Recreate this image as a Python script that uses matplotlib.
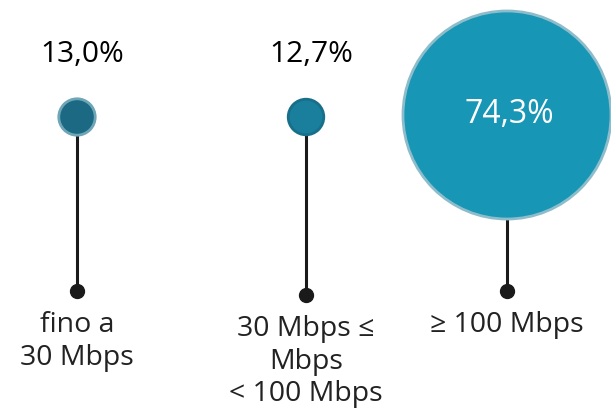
import matplotlib
matplotlib.use("Agg")
import matplotlib.pyplot as plt
from matplotlib.patches import Circle

# Data
categories = ["fino a\n30 Mbps", "30 Mbps ≤\nMbps\n< 100 Mbps", "≥ 100 Mbps"]
values = [13.0, 12.7, 74.3]
value_labels = ["13,0%", "12,7%", "74,3%"]

# Layout / style (pixel coordinates)
W, H = 611, 415
x_pos = [77, 306, 507]
cy = [117, 117, 115]
dot_y = [291, 295, 291]
r_scale = 1.40
fills = ["#1b6983", "#1a7f9c", "#1796b6"]
edges = ["#6ea6b8", "#176f89", "#8dbccb"]
font = "Open Sans"

fig = plt.figure(figsize=(W / 100, H / 100), dpi=100)
ax = fig.add_axes([0, 0, 1, 1])
ax.set_xlim(0, W)
ax.set_ylim(H, 0)
ax.axis("off")

for i, v in enumerate(values):
    r = v * r_scale
    ax.plot([x_pos[i], x_pos[i]], [cy[i], dot_y[i]], color="#1a1a1a", lw=2.2, zorder=1)
    ax.plot(x_pos[i], dot_y[i], "o", color="#1a1a1a", ms=10, zorder=2)
    ax.add_patch(Circle((x_pos[i], cy[i]), r, facecolor=fills[i], edgecolor=edges[i],
                        lw=2, zorder=3))
    if r > 40:
        ax.text(x_pos[i] + 2, 123, value_labels[i], color="white", fontsize=23,
                family=font, ha="center", va="baseline", zorder=4)
    else:
        ax.text(x_pos[i] + 5, 62, value_labels[i], color="black", fontsize=21.5,
                family=font, ha="center", va="baseline", zorder=4)
    ax.text(x_pos[i], dot_y[i] + 20, categories[i], color="#222222", fontsize=20.5,
            family=font, ha="center", va="top", linespacing=1.22, zorder=4)

fig.savefig("out.png", dpi=100)
